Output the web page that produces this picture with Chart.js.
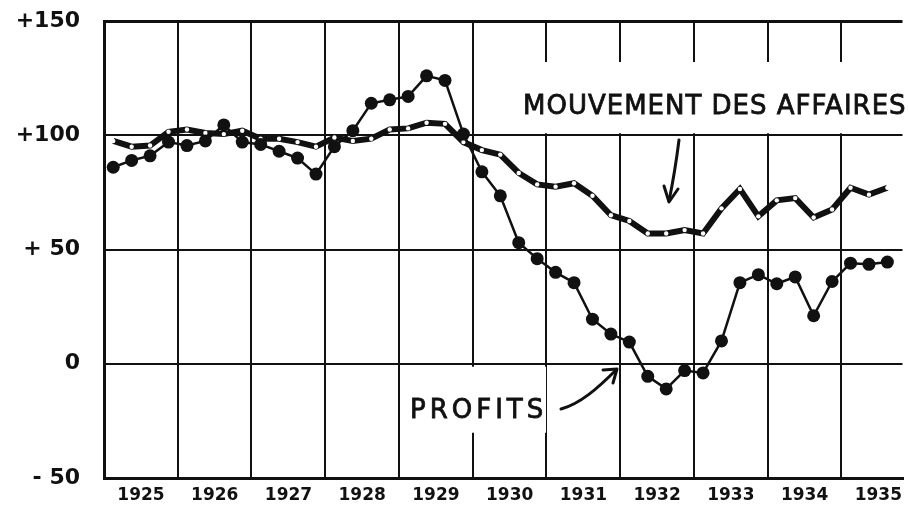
<!DOCTYPE html>
<html>
<head>
<meta charset="UTF-8">
<script src="https://cdn.jsdelivr.net/npm/chart.js"></script>
<style>
    html, body { margin: 0; padding: 0; background: #ffffff; }
</style>
</head>
<body>
<canvas id="chart" width="909" height="505"></canvas>
<script>
// years shown on the x axis (one column per year, four quarters each)
const years = [1925, 1926, 1927, 1928, 1929, 1930, 1931, 1932, 1933, 1934, 1935];
const xMax = 1935.83;

// y axis
const yTicks = [-50, 0, 50, 100, 150];
const yTickLabels = { '-50': '- 50', '0': '0', '50': '+ 50', '100': '+100', '150': '+150' };

// quarterly values, 1925 Q1 .. 1935 Q3
const profits = [
    86, 89, 91, 97,
    95.5, 97.5, 104.5, 97,
    96, 93, 90, 83,
    95, 102, 114, 115.5,
    117, 126, 124, 100.5,
    84, 73.5, 53, 46,
    40, 35.5, 19.5, 13,
    9.5, -5.5, -11, -3,
    -4, 10, 35.5, 39,
    35, 38, 21, 36,
    44, 43.5, 44.5
];
const mouvement = [
    97.5, 95, 95.5, 101.5,
    102.5, 101, 100.5, 102,
    98.5, 98.5, 97, 95,
    99, 97.5, 98.5, 102.5,
    103, 105.5, 105, 97,
    93.5, 91.5, 83.5, 78.5,
    77.5, 79, 73.5, 65,
    62.5, 57, 57, 58.5,
    57, 68, 76.5, 64.5,
    71.5, 72.5, 64, 67.5,
    77, 74, 77
];

const toPoints = arr => arr.map((v, i) => ({ x: years[0] + (i + 0.5) / 4, y: v }));

// labels with white boxes + hand drawn arrows
const notes = {
    id: 'notes',
    beforeDatasetsDraw(chart) {
        const { ctx, scales: { y } } = chart;
        ctx.save();
        ctx.fillStyle = '#ffffff';
        ctx.fillRect(515, 62, 909 - 515, y.getPixelForValue(100) - 2 - 62);
        ctx.fillRect(405, y.getPixelForValue(0) + 3, 141, 66);

        ctx.fillStyle = '#111';
        ctx.strokeStyle = '#111';
        ctx.lineWidth = 0.8;
        ctx.font = '26px "DejaVu Sans"';
        ctx.textBaseline = 'alphabetic';
        ctx.letterSpacing = '1px';
        ctx.fillText('MOUVEMENT DES AFFAIRES', 523, 114);
        ctx.strokeText('MOUVEMENT DES AFFAIRES', 523, 114);
        ctx.letterSpacing = '4px';
        ctx.fillText('PROFITS', 410, 418);
        ctx.strokeText('PROFITS', 410, 418);
        ctx.letterSpacing = '0px';

        ctx.lineWidth = 3;
        ctx.lineCap = 'round';
        ctx.lineJoin = 'round';
        // arrow to MOUVEMENT line
        ctx.beginPath();
        ctx.moveTo(679, 140);
        ctx.quadraticCurveTo(675, 172, 669, 201);
        ctx.stroke();
        ctx.beginPath();
        ctx.moveTo(664, 186);
        ctx.lineTo(669, 202);
        ctx.lineTo(678, 189);
        ctx.stroke();
        // arrow to PROFITS line
        ctx.beginPath();
        ctx.moveTo(561, 409);
        ctx.bezierCurveTo(580, 404, 598, 388, 616, 370);
        ctx.stroke();
        ctx.beginPath();
        ctx.moveTo(603, 370);
        ctx.lineTo(617, 369);
        ctx.lineTo(613, 383);
        ctx.stroke();
        ctx.restore();
    }
};

new Chart(document.getElementById('chart'), {
    type: 'line',
    data: {
        datasets: [
            {
                label: 'Profits',
                data: toPoints(profits),
                borderColor: '#111',
                borderWidth: 2.5,
                pointRadius: 6.5,
                pointBackgroundColor: '#111',
                pointBorderWidth: 0,
                tension: 0,
                order: 0
            },
            {
                label: 'Mouvement des affaires',
                data: toPoints(mouvement),
                borderColor: '#111',
                borderWidth: 6,
                pointRadius: 2.2,
                pointBackgroundColor: '#ffffff',
                pointBorderWidth: 0,
                tension: 0,
                order: 1
            }
        ]
    },
    options: {
        animation: false,
        responsive: false,
        devicePixelRatio: 1,
        layout: { padding: { top: 21, right: 0, bottom: 0, left: 0 } },
        plugins: {
            legend: { display: false },
            tooltip: { enabled: false }
        },
        scales: {
            x: {
                type: 'linear',
                min: years[0],
                max: xMax,
                afterBuildTicks: scale => { scale.ticks = years.map(v => ({ value: v })); },
                afterFit: scale => { scale.height = 27; },
                grid: { color: '#111', lineWidth: 2, drawTicks: false },
                border: { display: true, color: '#111', width: 3 },
                ticks: {
                    autoSkip: false,
                    maxRotation: 0,
                    padding: 7,
                    labelOffset: 37,
                    color: '#111',
                    font: { family: 'DejaVu Sans', size: 17, weight: 'bold' },
                    callback: v => String(v)
                }
            },
            y: {
                min: -50,
                max: 150,
                afterBuildTicks: scale => { scale.ticks = yTicks.map(v => ({ value: v })); },
                afterFit: scale => { scale.width = 104; },
                grid: {
                    color: '#111',
                    lineWidth: c => (c.tick && (c.tick.value === 150 || c.tick.value === -50)) ? 3 : 2,
                    drawTicks: true,
                    tickLength: 22,
                    tickColor: 'rgba(0,0,0,0)'
                },
                border: { display: true, color: '#111', width: 3 },
                ticks: {
                    padding: 2,
                    color: '#111',
                    font: { family: 'DejaVu Sans', size: 22, weight: 'bold' },
                    callback: v => yTickLabels[String(v)]
                }
            }
        }
    },
    plugins: [notes]
});
</script>
</body>
</html>
